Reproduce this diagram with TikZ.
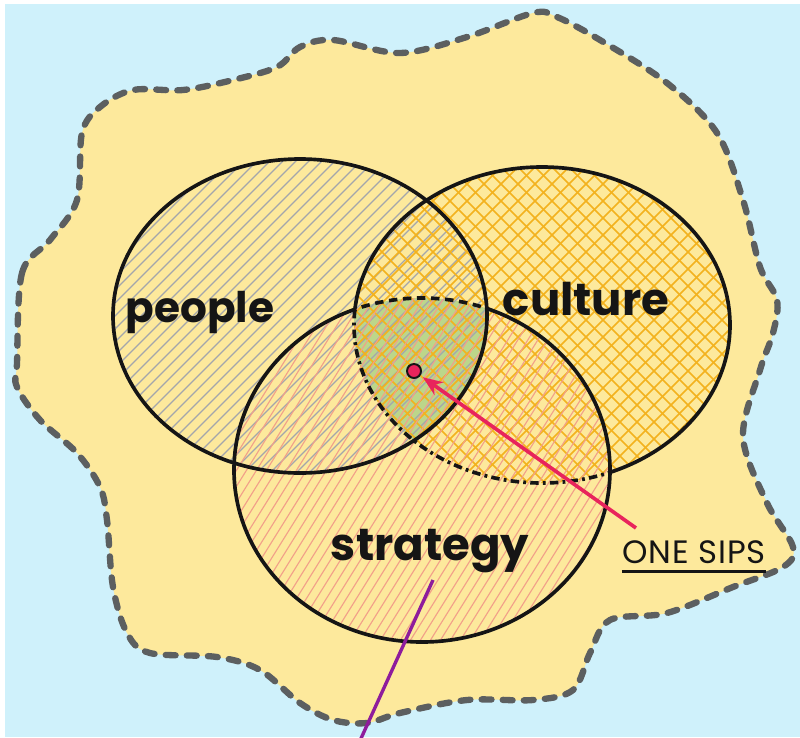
\documentclass[tikz,border=0pt]{standalone}
\usepackage{fontspec}
\setmainfont{Poppins}
\usetikzlibrary{arrows.meta}

\definecolor{sky}{HTML}{CFF1FB}
\definecolor{sand}{HTML}{FDE99C}
\definecolor{ink}{HTML}{151515}
\definecolor{fence}{HTML}{5C5F60}
\definecolor{hatchgray}{HTML}{A3A6AC}
\definecolor{hatchorange}{HTML}{F3B21E}
\definecolor{hatchpink}{HTML}{F2A089}
\definecolor{core}{HTML}{BCD68A}
\definecolor{dotred}{HTML}{E8245C}
\definecolor{tailpurple}{HTML}{8E1C9C}

\begin{document}
\begin{tikzpicture}[x=0.025cm,y=-0.025cm,
  ring/.style={draw=ink,line width=2.6pt},
  hatch/.style={line width=0.8pt},
  word/.style={font=\bfseries\fontsize{30}{34}\selectfont,text=ink,inner sep=0pt,anchor=base}]
  \fill[white] (0,0) rectangle (800,737);
  \fill[sky] (5,4) rectangle (800,737);
  \useasboundingbox (0,0) rectangle (800,737);
  \coordinate (pc) at (300,316);
  \coordinate (cc) at (542,325);
  \coordinate (sc) at (422,470);
  % dashed island
  \draw[fill=sand,draw=fence,line width=4.5pt,dash pattern=on 7pt off 8pt,line cap=round]
    plot[smooth cycle,tension=0.55] coordinates {
    (17,363) (22,273) (50,240) (77,200) (82,133) (100,107) (133,90) (183,90)
    (233,80) (277,67) (300,47) (333,40) (400,53) (467,37) (533,13) (557,17)
    (600,40) (667,83) (717,133) (743,200) (760,267) (777,300) (773,333) (760,370)
    (743,437) (767,503) (793,547) (783,567) (733,587) (667,613) (610,620) (590,653)
    (573,690) (533,700) (467,700) (400,713) (367,723) (333,720) (300,703) (260,670)
    (217,657) (150,653) (127,633) (113,587) (107,520) (100,487) (77,453) (40,420) (17,387)};
  % core where all three meet
  \begin{scope}
    \clip (pc) ellipse [x radius=187,y radius=157];
    \clip (cc) ellipse [x radius=188,y radius=158];
    \fill[core] (sc) ellipse [x radius=188,y radius=172];
  \end{scope}
  % hatching
  \begin{scope}
    \clip (pc) ellipse [x radius=187,y radius=157];
    \foreach \i in {-800,-787,...,800} \draw[hatch,hatchgray] (\i,737) -- ++(737,-737);
  \end{scope}
  \begin{scope}
    \clip (cc) ellipse [x radius=188,y radius=158];
    \foreach \i in {-800,-783,...,800} \draw[hatch,hatchorange,line width=1.2pt] (\i,737) -- ++(737,-737);
    \foreach \i in {0,17,...,1600} \draw[hatch,hatchorange,line width=1.2pt] (\i,737) -- ++(-737,-737);
  \end{scope}
  \begin{scope}
    \clip (sc) ellipse [x radius=188,y radius=172];
    \foreach \i in {-400,-390,...,800} \draw[hatch,hatchpink] (\i,737) -- ++(460,-737);
  \end{scope}
  % outlines
  \draw[ring] (pc) ellipse [x radius=187,y radius=157];
  \begin{scope}[even odd rule]
    \clip (-10,-10) rectangle (810,750) (sc) ellipse [x radius=188,y radius=172];
    \draw[ring] (cc) ellipse [x radius=188,y radius=158];
  \end{scope}
  \begin{scope}
    \clip (sc) ellipse [x radius=188,y radius=172];
    \draw[ring,dash pattern=on 6pt off 3pt on 2pt off 3pt] (cc) ellipse [x radius=188,y radius=158];
  \end{scope}
  \begin{scope}[even odd rule]
    \clip (-10,-10) rectangle (810,750) (cc) ellipse [x radius=188,y radius=158];
    \draw[ring] (sc) ellipse [x radius=188,y radius=172];
  \end{scope}
  \begin{scope}
    \clip (cc) ellipse [x radius=188,y radius=158];
    \begin{scope}[even odd rule]
      \clip (-10,-10) rectangle (810,750) (pc) ellipse [x radius=187,y radius=157];
      \draw[ring] (sc) ellipse [x radius=188,y radius=172];
    \end{scope}
  \end{scope}
  \begin{scope}
    \clip (cc) ellipse [x radius=188,y radius=158];
    \clip (pc) ellipse [x radius=187,y radius=157];
    \draw[ring,dash pattern=on 6pt off 4pt] (sc) ellipse [x radius=188,y radius=172];
  \end{scope}
  % labels
  \node[word] (people) at (200,322) {people};
  \node[word,font=\bfseries\fontsize{32}{36}\selectfont] (culture) at (586,315) {culture};
  \node[word,font=\bfseries\fontsize{32}{36}\selectfont] (strategy) at (430,560) {strategy};
  \node[word,font=\addfontfeatures{LetterSpace=3}\fontsize{23}{27}\selectfont] (sips) at (694,563) {ONE SIPS};
  \draw[ink,line width=2pt] ([yshift=-6pt]sips.base west) -- ([yshift=-6pt]sips.base east);
  % the point and its pointer
  \node[circle,fill=dotred,draw=ink,line width=1.4pt,minimum size=0.35cm,inner sep=0pt] (dot) at (414,371) {};
  \coordinate (pointer) at (636,528);
  \draw[dotred,line width=2.6pt,-{Stealth[length=14pt,width=11pt]},shorten >=2pt] (pointer) -- (dot);
  \coordinate (tailtop) at (433,580);
  \coordinate (tailend) at (358,745);
  \draw[tailpurple,line width=2.4pt] (tailtop) -- (tailend);
\end{tikzpicture}
\end{document}
